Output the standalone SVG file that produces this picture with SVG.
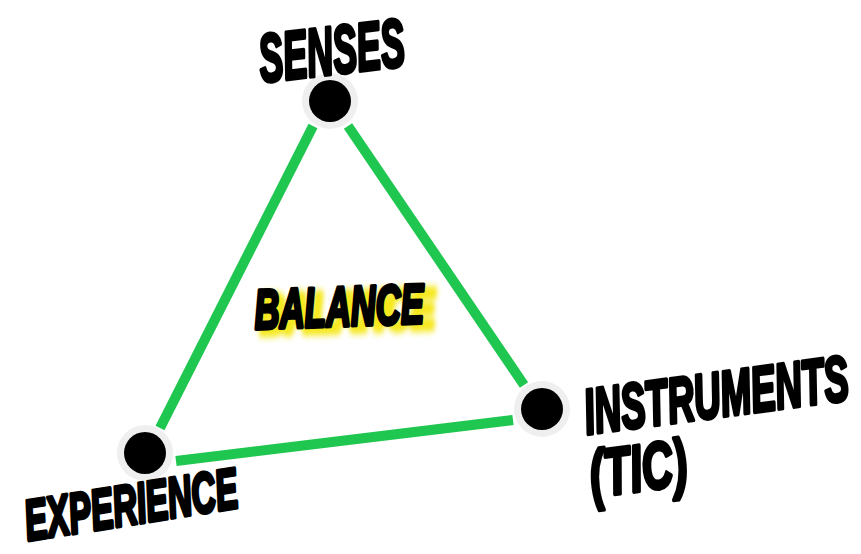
<svg xmlns="http://www.w3.org/2000/svg" width="861" height="554" viewBox="0 0 861 554">
<defs>
<style>
.lbl{font-family:"Liberation Sans",Arial,sans-serif;font-weight:bold;font-style:italic;fill:#000;stroke:#000;stroke-width:4;stroke-linejoin:round;text-anchor:middle}
.edge{stroke:#1fc64f;stroke-width:10;stroke-linecap:butt;fill:none}
.halo{fill:#efefef}
.dot{fill:#000}
</style>
<filter id="glow" x="-20%" y="-50%" width="140%" height="200%">
<feGaussianBlur stdDeviation="3"/>
</filter>
</defs>
<rect width="861" height="554" fill="#fff"/>
<g id="connectors">
<line class="edge" x1="348" y1="126" x2="524" y2="385"/>
<line class="edge" x1="313" y1="126" x2="160" y2="428"/>
<line class="edge" x1="176" y1="461" x2="513" y2="420"/>
</g>
<g id="senses">
<circle class="halo" cx="330" cy="101" r="28"/>
<circle class="dot" cx="330" cy="101" r="21"/>
<text class="lbl" x="0" y="19" font-size="68" transform="translate(332 55) rotate(-6.5) scale(0.53 1)">SENSES</text>
</g>
<g id="instruments">
<circle class="halo" cx="542" cy="409" r="28"/>
<circle class="dot" cx="542" cy="409" r="21"/>
<text class="lbl" x="0" y="22" font-size="64" transform="translate(716 395) rotate(-7.5) scale(0.576 1)">INSTRUMENTS</text>
<text class="lbl" x="0" y="23" font-size="66" transform="translate(638 468) rotate(-7.5) scale(0.65 1)">(TIC)</text>
</g>
<g id="experience">
<circle class="halo" cx="145" cy="453" r="28"/>
<circle class="dot" cx="145" cy="453" r="21"/>
<text class="lbl" x="0" y="19" font-size="57" transform="translate(131 505) rotate(-9) scale(0.585 1)">EXPERIENCE</text>
</g>
<g id="balance">
<text class="lbl" x="11" y="25" font-size="56" style="fill:#f5e81a;stroke:#f5e81a;stroke-width:7" filter="url(#glow)" transform="translate(340 306) rotate(-2) scale(0.64 1)">BALANCE</text>
<text class="lbl" x="0" y="20" font-size="56" transform="translate(339 306) rotate(-2) scale(0.62 1)">BALANCE</text>
</g>
</svg>
